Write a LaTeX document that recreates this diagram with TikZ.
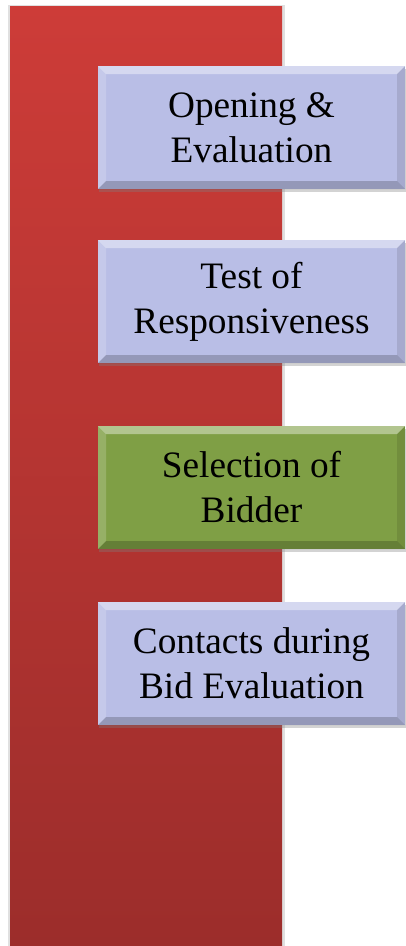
\documentclass[tikz,border=0pt]{standalone}
\usepackage{fontspec}
\setmainfont{Liberation Serif}
\usepackage{tikz}
\usetikzlibrary{shadows}

\definecolor{BarTop}{HTML}{CD3C38}
\definecolor{BarBottom}{HTML}{9C2D2B}
\definecolor{Lavender}{HTML}{B9BEE6}
\definecolor{Moss}{HTML}{7F9F45}

\tikzset{
  bevel/.style={path picture={
      \fill[white,opacity=0.4] (path picture bounding box.north west) -- (path picture bounding box.north east)
        -- ([xshift=-8pt,yshift=-8pt]path picture bounding box.north east) -- ([xshift=8pt,yshift=-8pt]path picture bounding box.north west) -- cycle;
      \fill[white,opacity=0.18] (path picture bounding box.north west) -- ([xshift=8pt,yshift=-8pt]path picture bounding box.north west)
        -- ([xshift=8pt,yshift=8pt]path picture bounding box.south west) -- (path picture bounding box.south west) -- cycle;
      \fill[black,opacity=0.2] (path picture bounding box.south west) -- (path picture bounding box.south east)
        -- ([xshift=-8pt,yshift=8pt]path picture bounding box.south east) -- ([xshift=8pt,yshift=8pt]path picture bounding box.south west) -- cycle;
      \fill[black,opacity=0.1] (path picture bounding box.north east) -- ([xshift=-8pt,yshift=-8pt]path picture bounding box.north east)
        -- ([xshift=-8pt,yshift=8pt]path picture bounding box.south east) -- (path picture bounding box.south east) -- cycle;
  }}
}

\begin{document}
\begin{tikzpicture}[x=1pt, y=-1pt,
    every node/.append style={font=\fontsize{37.3}{45}\selectfont, text=black}]
  \tikzstyle{stage} = [rectangle, minimum width=307pt, minimum height=123pt, inner sep=0pt,
    align=center, bevel, drop shadow={shadow xshift=1pt, shadow yshift=-3pt, opacity=0.35}]
  \useasboundingbox (0,0) rectangle (406,946);
  % red band behind the stages
  \fill[black,opacity=0.12] (8,5) rectangle (285,946);
  \shade[top color=BarTop, bottom color=BarBottom] (10,6) rectangle (282,946);
  \node (opening) [stage, fill=Lavender] at (251.5,127.5) {Opening \&\\Evaluation};
  \node (responsive) [stage, fill=Lavender] at (251.5,301.5) {Test of\\Responsiveness};
  \node (selection) [stage, fill=Moss] at (251.5,487.5) {Selection of\\Bidder};
  \node (contacts) [stage, fill=Lavender] at (251.5,663.5) {Contacts during\\Bid Evaluation};
\end{tikzpicture}
\end{document}
